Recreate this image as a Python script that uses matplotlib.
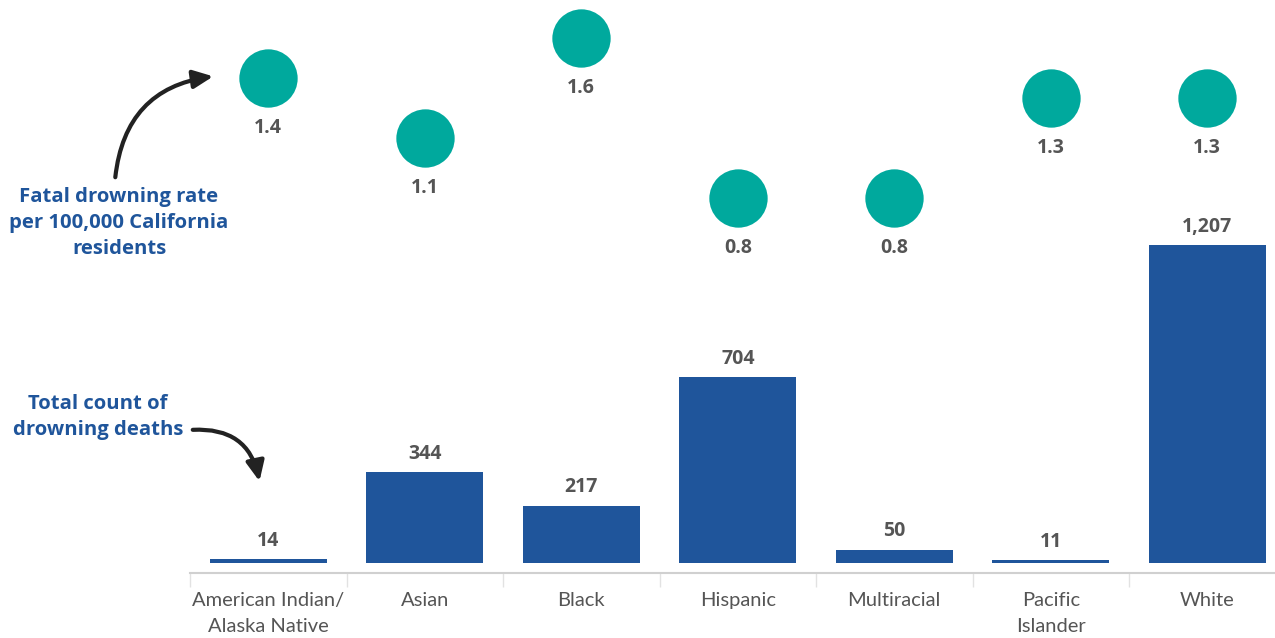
import numpy as np
import matplotlib
matplotlib.use("Agg")
import matplotlib.pyplot as plt

# data
groups = ["American Indian/\nAlaska Native", "Asian", "Black", "Hispanic",
          "Multiracial", "Pacific\nIslander", "White"]
deaths = [14, 344, 217, 704, 50, 11, 1207]
rates = [1.4, 1.1, 1.6, 0.8, 0.8, 1.3, 1.3]

bar_col = "#1F559B"
dot_col = "#00A99D"
lab_col = "#555555"

W, H = 1275, 638
fig = plt.figure(figsize=(W / 100, H / 100), dpi=100)

# axes in pixel terms: x -0.5 at 190px, 156.5 px per group; bottom at 563px
left = 190 / W
width = 7 * 156.5 / W
bottom = (H - 563) / H
height = 563 / H
ax = fig.add_axes([left, bottom, width, height])
ax2 = ax.twinx()

x = np.arange(len(groups))
ax.bar(x, deaths, width=0.75, color=bar_col, zorder=2)
ax.set_xlim(-0.5, 6.5)
ax.set_ylim(0, 563 / 0.2635)

for xi, d in zip(x, deaths):
    ax.annotate(f"{d:,}", (xi, d), xytext=(0, 6), textcoords="offset points",
                ha="center", va="bottom", fontsize=14, fontweight="bold",
                color=lab_col, family="Open Sans")

ax2.plot(x, rates, "o", ms=42, color=dot_col, mec="none", clip_on=False)
ax2.set_ylim(-1.025, 1.79)
for xi, r in zip(x, rates):
    ax2.annotate(f"{r}", (xi, r), xytext=(0, -36), textcoords="offset points",
                 ha="center", va="center", fontsize=14, fontweight="bold",
                 color=lab_col, family="Open Sans")

for a in (ax, ax2):
    for s in ["top", "right", "left"]:
        a.spines[s].set_visible(False)
    a.set_yticks([])
ax2.spines["bottom"].set_visible(False)

ax.spines["bottom"].set_position(("outward", 7))
ax.spines["bottom"].set_color("#d0d0d0")
ax.spines["bottom"].set_linewidth(1.5)
ax.set_xticks(x)
ax.set_xticklabels(groups, fontsize=14.5, color=lab_col, family="Lato",
                   linespacing=1.6)
ax.tick_params(axis="x", which="major", length=0, pad=14)
ax.set_xticks(np.arange(-0.5, 7, 1), minor=True)
ax.tick_params(axis="x", which="minor", length=10, color="#e2e2e2", width=1)

# annotations in figure pixel coords
def fp(px, py):
    return (px / W, 1 - py / H)

fig.text(*fp(119, 223), "Fatal drowning rate\nper 100,000 California\nresidents",
         ha="center", va="center", fontsize=14.6, fontweight="bold",
         color=bar_col, family="Open Sans", linespacing=1.4)
fig.text(*fp(98, 417), "Total count of\ndrowning deaths",
         ha="center", va="center", fontsize=14.6, fontweight="bold",
         color=bar_col, family="Open Sans", linespacing=1.4)

ax.annotate("", xy=fp(216, 76), xycoords="figure fraction",
            xytext=fp(115, 180), textcoords="figure fraction",
            arrowprops=dict(arrowstyle="-|>,head_length=1.2,head_width=0.55",
                            color="#222222", lw=3,
                            connectionstyle="arc3,rad=-0.4"),
            annotation_clip=False)
ax.annotate("", xy=fp(260, 484), xycoords="figure fraction",
            xytext=fp(190, 430), textcoords="figure fraction",
            arrowprops=dict(arrowstyle="-|>,head_length=1.2,head_width=0.55",
                            color="#222222", lw=3,
                            connectionstyle="arc3,rad=-0.45"),
            annotation_clip=False)

fig.savefig("out.png", dpi=100)
